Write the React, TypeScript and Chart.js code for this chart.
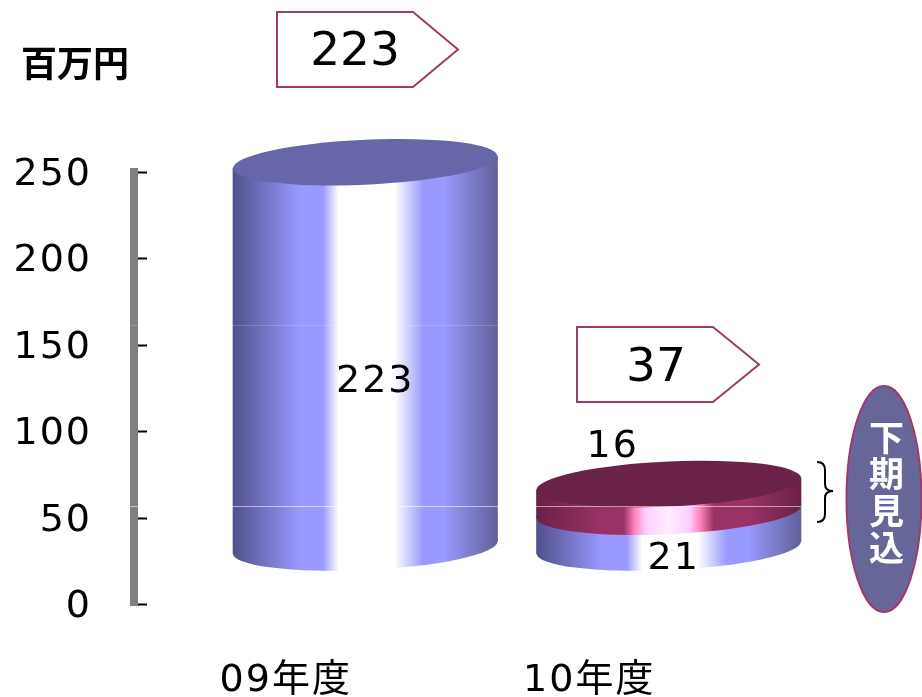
import React, { useEffect, useRef } from "react";
import { Chart, registerables } from "chart.js";

Chart.register(...registerables);

const categories = ["09年度", "10年度"];
const fullYear = [223, 21];
const secondHalf = [null, 16];
const totals = [223, 37];
const yTicks = [0, 50, 100, 150, 200, 250];
const unitLabel = "百万円";
const ovalLabel = ["下", "期", "見", "込"];

const BAR_W = 264.5;
const DX = 79.5;
const DY = -56.5;
const RY = 22.5;
const SHEAR = -0.045;
const LATIN = '"DejaVu Sans", "Noto Sans CJK JP"';

const BLUE: [number, string][] = [
  [0, "#50508c"], [0.25, "#9999ff"], [0.34, "#9999ff"], [0.4, "#ffffff"],
  [0.61, "#ffffff"], [0.72, "#9999ff"], [0.8, "#9999ff"], [1, "#60609a"],
];
const PLUM: [number, string][] = [
  [0, "#6b2046"], [0.25, "#993366"], [0.33, "#993366"], [0.37, "#ff80b8"], [0.41, "#ffccff"],
  [0.5, "#ffeeff"], [0.58, "#ffccff"], [0.62, "#ff80b8"], [0.67, "#993366"], [0.8, "#993366"], [1, "#6b2046"],
];

function gradient(ctx: CanvasRenderingContext2D, cx: number, stops: [number, string][]) {
  const g = ctx.createLinearGradient(cx - BAR_W / 2, 0, cx + BAR_W / 2, 0);
  stops.forEach(([o, c]) => g.addColorStop(o, c));
  return g;
}

function barFill(stops: [number, string][], fallback: string) {
  return (c: any) => {
    if (typeof c.dataIndex !== "number") return fallback;
    const x = c.chart.scales.x?.getPixelForValue(c.dataIndex);
    if (!Number.isFinite(x)) return fallback;
    return gradient(c.chart.ctx, x, stops);
  };
}

function sheared(ctx: CanvasRenderingContext2D, cx: number, fn: () => void) {
  ctx.save();
  ctx.transform(1, SHEAR, 0, 1, 0, -SHEAR * cx);
  fn();
  ctx.restore();
}

const cylinderPlugin = {
  id: "cylinder",
  beforeDraw(chart: any) {
    chart.ctx.letterSpacing = "2px";
  },
  beforeDatasetDraw(chart: any, args: any) {
    chart.ctx.save();
    chart.ctx.translate(DX, DY);
    args.meta.data.forEach((el: any) => {
      if (el.__wrapped) return;
      el.__wrapped = true;
      const original = el.draw.bind(el);
      el.draw = (ctx: CanvasRenderingContext2D) => sheared(ctx, el.x, () => original(ctx));
    });
  },
  afterDatasetDraw(chart: any) {
    chart.ctx.restore();
  },
  afterDatasetsDraw(chart: any) {
    const ctx: CanvasRenderingContext2D = chart.ctx;
    const palettes = [BLUE, PLUM];
    ctx.save();
    ctx.translate(DX, DY);
    // bottom curve of each segment, lower stack first
    chart.data.datasets.forEach((ds: any, di: number) => {
      chart.getDatasetMeta(di).data.forEach((el: any, i: number) => {
        if (ds.data[i] == null) return;
        sheared(ctx, el.x, () => {
          ctx.beginPath();
          ctx.ellipse(el.x, el.base, BAR_W / 2, RY, 0, 0, Math.PI);
          ctx.lineTo(el.x - BAR_W / 2, el.base - 2);
          ctx.lineTo(el.x + BAR_W / 2, el.base - 2);
          ctx.closePath();
          ctx.fillStyle = gradient(ctx, el.x, palettes[di]);
          ctx.fill();
        });
      });
    });
    // top cap of each column
    categories.forEach((_, i) => {
      const di = secondHalf[i] != null ? 1 : 0;
      const el = chart.getDatasetMeta(di).data[i];
      sheared(ctx, el.x, () => {
        ctx.beginPath();
        ctx.ellipse(el.x, el.y, BAR_W / 2, RY, 0, 0, Math.PI * 2);
        ctx.fillStyle = di === 1 ? "#6b2248" : "#6666a8";
        ctx.fill();
      });
    });
    ctx.restore();

    // faint horizontal streaks
    ctx.save();
    ctx.fillStyle = "rgba(255,255,255,0.18)";
    ctx.fillRect(129, 325, 370, 1);
    ctx.fillStyle = "rgba(255,255,255,0.55)";
    ctx.fillRect(129, 506, 672, 1);
    ctx.restore();

    // value labels
    const text = (s: string, x: number, y: number, font: string, color = "#000") => {
      ctx.font = font;
      ctx.fillStyle = color;
      ctx.textAlign = "center";
      ctx.textBaseline = "middle";
      ctx.fillText(s, x, y);
    };
    ctx.save();
    ctx.letterSpacing = "2px";
    const m0 = chart.getDatasetMeta(0).data;
    const m1 = chart.getDatasetMeta(1).data;
    const f38 = `38px ${LATIN}`;
    text(String(fullYear[0]), m0[0].x + DX + 10, 382, f38);
    text(String(fullYear[1]), m0[1].x + DX + 5, 559, f38);
    text(String(secondHalf[1]), m1[1].x + DX - 56, 447, f38);

    // total call-outs
    const pent = (l: number, s: number, tip: number, t: number, b: number) => {
      ctx.beginPath();
      ctx.moveTo(l, t);
      ctx.lineTo(s, t);
      ctx.lineTo(tip, (t + b) / 2);
      ctx.lineTo(s, b);
      ctx.lineTo(l, b);
      ctx.closePath();
      ctx.fillStyle = "#fff";
      ctx.fill();
      ctx.strokeStyle = "#a03a6a";
      ctx.lineWidth = 2;
      ctx.stroke();
    };
    pent(277, 413, 458, 12, 87);
    pent(577, 713, 759, 327, 402);
    ctx.letterSpacing = "0px";
    const f48 = `47px ${LATIN}`;
    text(String(totals[0]), 355, 53, f48);
    text(String(totals[1]), 656, 369, f48);

    // unit
    text(unitLabel, 75, 63, 'bold 36px "Noto Sans CJK JP"');

    // brace
    ctx.beginPath();
    ctx.moveTo(817, 462);
    ctx.quadraticCurveTo(825, 462, 825, 470);
    ctx.lineTo(825, 484);
    ctx.quadraticCurveTo(825, 491, 833, 491);
    ctx.quadraticCurveTo(825, 491, 825, 498);
    ctx.lineTo(825, 514);
    ctx.quadraticCurveTo(825, 522, 817, 522);
    ctx.strokeStyle = "#000";
    ctx.lineWidth = 2;
    ctx.stroke();

    // oval
    ctx.beginPath();
    ctx.ellipse(884, 499, 37.5, 113, 0, 0, Math.PI * 2);
    ctx.fillStyle = "#666699";
    ctx.fill();
    ctx.strokeStyle = "#a03a6a";
    ctx.lineWidth = 2;
    ctx.stroke();
    const ys = [438, 474, 511, 548];
    ovalLabel.forEach((c, i) => text(c, 886.5, ys[i], 'bold 35px "Noto Sans CJK JP"', "#fff"));
    ctx.restore();
  },
};

export default function App() {
  const ref = useRef<HTMLCanvasElement>(null);
  useEffect(() => {
    const chart = new Chart(ref.current!, {
      type: "bar",
      data: {
        labels: categories,
        datasets: [
          {
            label: "上期",
            data: fullYear,
            clip: false,
            barThickness: BAR_W,
            backgroundColor: barFill(BLUE, "#9999ff"),
          },
          {
            label: "下期見込",
            data: secondHalf,
            clip: false,
            barThickness: BAR_W,
            backgroundColor: barFill(PLUM, "#993366"),
          },
        ] as any,
      },
      options: {
        responsive: false,
        animation: false,
        devicePixelRatio: 1,
        layout: { padding: { left: 0, right: 922 - 741, top: 172, bottom: 0 } },
        plugins: { legend: { display: false }, tooltip: { enabled: false } },
        scales: {
          x: {
            stacked: true,
            grid: { display: false },
            border: { display: false },
            ticks: {
              padding: 46,
              maxRotation: 0,
              autoSkip: false,
              color: "#000",
              font: { family: LATIN, size: 38 },
            },
            afterFit: (s: any) => {
              s.height = 697 - 604.5;
            },
          },
          y: {
            stacked: true,
            min: 0,
            max: 250,
            afterBuildTicks: (s: any) => {
              s.ticks = yTicks.map((value) => ({ value }));
            },
            border: { display: true, color: "#808080", width: 8 },
            grid: { drawOnChartArea: false, drawTicks: true, tickLength: -13, tickWidth: 2, tickColor: "#000" },
            ticks: {
              padding: 55,
              labelOffset: 3,
              color: "#000",
              font: { family: LATIN, size: 38 },
            },
            afterFit: (s: any) => {
              s.width = 134;
            },
          },
        },
      } as any,
      plugins: [cylinderPlugin],
    });
    return () => chart.destroy();
  }, []);
  return (
    <div style={{ position: "absolute", left: 0, top: 0, width: 922, height: 697, background: "#fff" }}>
      <canvas ref={ref} width={922} height={697} style={{ display: "block", width: 922, height: 697 }} />
    </div>
  );
}
